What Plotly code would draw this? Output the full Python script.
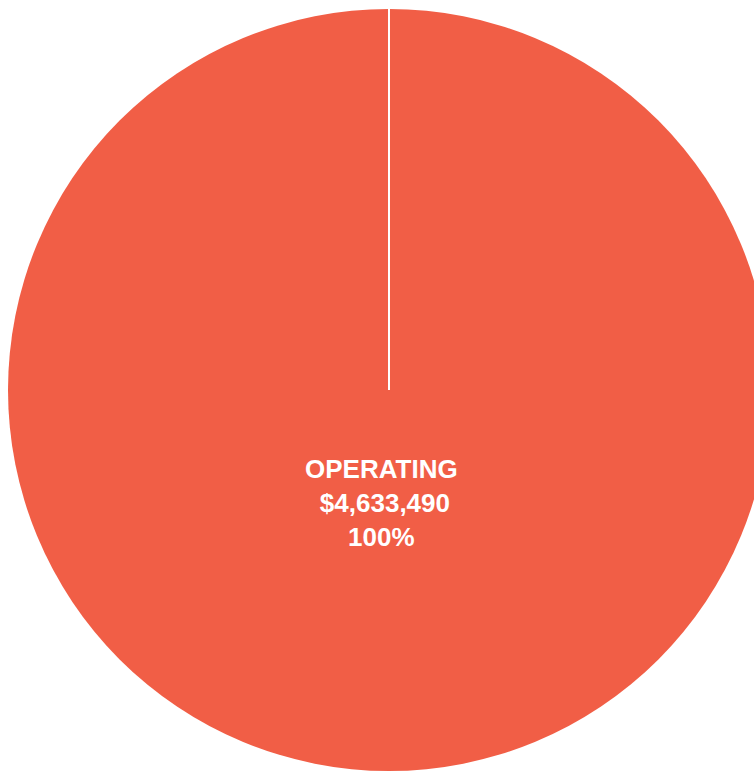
import plotly.graph_objects as go

# Budget breakdown by fund type
categories = ["OPERATING"]
amounts = [4633490]

slice_color = "#F15E46"

W, H = 776, 775
cx, cy, r = 389, 390, 381  # pie centre / radius in pixels

total = sum(amounts)
label_lines = []
for cat, amt in zip(categories, amounts):
    label_lines.append(f"{cat}<br> ${amt:,.0f}<br>{amt / total:.0%}")

fig = go.Figure(
    go.Pie(
        labels=categories,
        values=amounts,
        sort=False,
        direction="clockwise",
        rotation=0,
        textinfo="none",
        hoverinfo="label+value+percent",
        marker=dict(colors=[slice_color], line=dict(color="white", width=0)),
        domain=dict(
            x=[(cx - r) / W, (cx + r) / W],
            y=[(H - cy - r) / H, (H - cy + r) / H],
        ),
        showlegend=False,
    )
)

# white divider from the centre up to the rim (start of the slice)
fig.add_shape(
    type="line",
    xref="paper", yref="paper",
    x0=cx / W, x1=cx / W,
    y0=(H - cy) / H, y1=(H - cy + r) / H,
    line=dict(color="white", width=2),
)

fig.add_annotation(
    text=label_lines[0],
    xref="paper", yref="paper",
    x=381 / W, y=(H - 503) / H,
    xanchor="center", yanchor="middle",
    showarrow=False,
    align="center",
    font=dict(family="Liberation Sans, Arial, sans-serif", size=26, color="white", weight="bold"),
)

fig.update_layout(
    width=W,
    height=H,
    margin=dict(l=0, r=0, t=0, b=0),
    paper_bgcolor="white",
    plot_bgcolor="white",
)

fig.write_html(
    "out.html",
    post_script="document.documentElement.style.overflow='hidden';document.body.style.overflow='hidden';document.body.style.margin='0';",
)
